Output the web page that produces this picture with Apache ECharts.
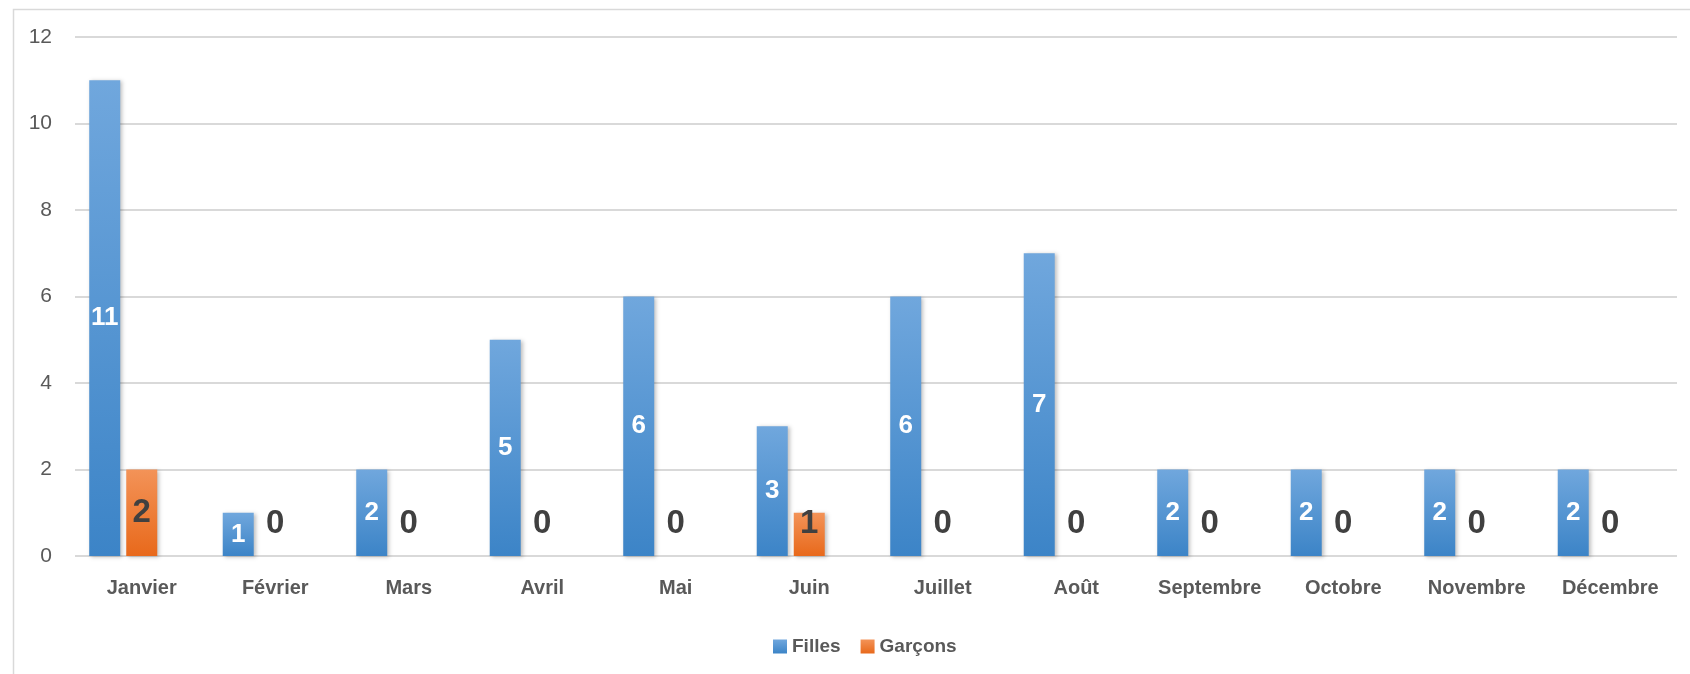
<!DOCTYPE html>
<html>
<head>
<meta charset="utf-8">
<script src="https://cdn.jsdelivr.net/npm/echarts@6/dist/echarts.min.js"></script>
<style>
  html, body { margin: 0; padding: 0; background: #fff; }
  #chart { width: 1690px; height: 674px; }
</style>
</head>
<body>
<div id="chart"></div>
<script>
const months = ["Janvier", "Février", "Mars", "Avril", "Mai", "Juin", "Juillet", "Août", "Septembre", "Octobre", "Novembre", "Décembre"];
const filles = [11, 1, 2, 5, 6, 3, 6, 7, 2, 2, 2, 2];
const garcons = [2, 0, 0, 0, 0, 1, 0, 0, 0, 0, 0, 0];
// empty third series from the original sheet, it only takes its slot
const vide = [null, null, null, null, null, null, null, null, null, null, null, null];

const font = "Liberation Sans";

function grad(top, bottom) {
  return new echarts.graphic.LinearGradient(0, 0, 0, 1, [
    { offset: 0, color: top },
    { offset: 1, color: bottom },
  ]);
}

const shadow = {
  shadowBlur: 4,
  shadowOffsetX: 2,
  shadowOffsetY: 1,
  shadowColor: "rgba(0,0,0,0.25)",
};

let chart = echarts.init(document.getElementById("chart"));

chart.setOption({
  animation: false,
  textStyle: { fontFamily: font },
  graphic: [
    {
      type: "rect",
      left: 11,
      top: 7,
      shape: { width: 1720, height: 700 },
      style: { fill: "none", stroke: "#d9d9d9", lineWidth: 1.5 },
      silent: true,
    },
  ],
  grid: { left: 75, right: 13, top: 37, bottom: 118 },
  legend: {
    data: ["Filles", "Garçons"],
    left: 768,
    top: 632,
    itemWidth: 14,
    itemHeight: 14,
    itemGap: 20,
    icon: "rect",
    textStyle: { fontFamily: font, fontSize: 19, fontWeight: "bold", color: "#595959" },
  },
  xAxis: {
    type: "category",
    data: months,
    axisLine: { show: false },
    axisTick: { show: false },
    axisLabel: { interval: 0, fontFamily: font, fontSize: 20, fontWeight: "bold", color: "#595959", margin: 22 },
  },
  yAxis: {
    type: "value",
    min: 0,
    max: 12,
    interval: 2,
    axisLine: { show: false },
    axisTick: { show: false },
    axisLabel: { fontFamily: font, fontSize: 21, color: "#595959", margin: 23 },
    splitLine: { lineStyle: { color: "#d9d9d9", width: 2 } },
  },
  series: [
    {
      name: "Filles",
      type: "bar",
      data: filles,
      barWidth: 31,
      barGap: "19.4%",
      itemStyle: Object.assign({ color: grad("#70a7dd", "#3c84c7") }, shadow),
      label: {
        show: true,
        position: "inside",
        color: "#fff",
        fontFamily: font,
        fontSize: 26,
        fontWeight: "bold",
      },
    },
    {
      name: "Garçons",
      type: "bar",
      barWidth: 31,
      data: garcons.map((v) =>
        v >= 2 ? { value: v, label: { position: "inside" } } : v
      ),
      itemStyle: Object.assign({ color: grad("#f39358", "#e8691b") }, shadow),
      label: {
        show: true,
        position: "insideBottom",
        distance: 16,
        color: "#404040",
        fontFamily: font,
        fontSize: 33,
        fontWeight: "bold",
      },
    },
    {
      name: "vide",
      type: "bar",
      barWidth: 31,
      data: vide,
    },
  ],
});
</script>
</body>
</html>
